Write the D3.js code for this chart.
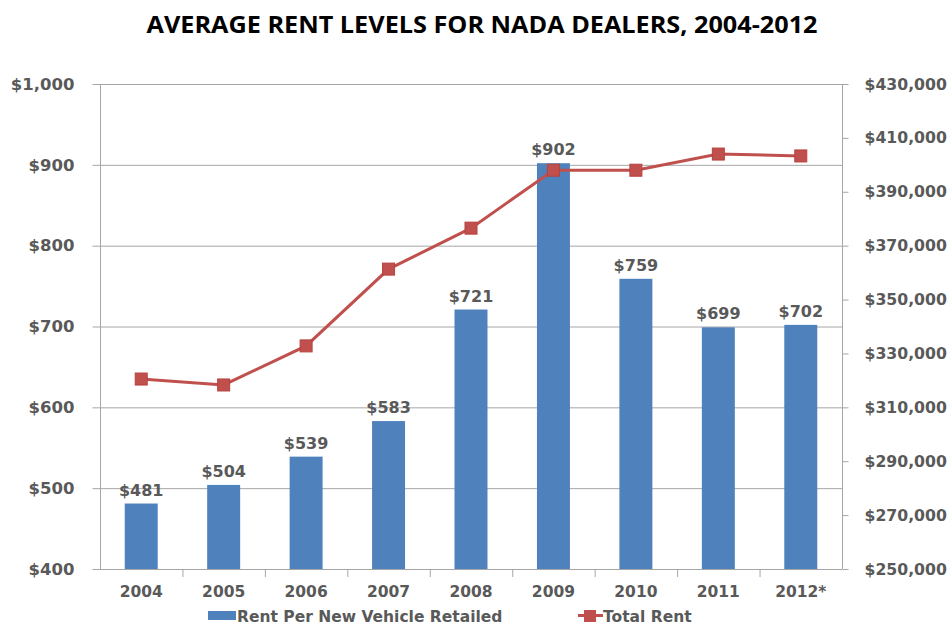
<!DOCTYPE html>
<html>
<head>
<meta charset="utf-8">
<script src="https://cdn.jsdelivr.net/npm/d3@7"></script>
<style>
  body { margin: 0; background: #fff; }
  svg text { font-family: "DejaVu Sans", Verdana, sans-serif; font-weight: bold; fill: #595959; }
</style>
</head>
<body>
<svg id="chart" width="950" height="626"></svg>
<script>
var years = ['2004', '2005', '2006', '2007', '2008', '2009', '2010', '2011', '2012*'];
var rentPerVehicle = [481, 504, 539, 583, 721, 902, 759, 699, 702];
var totalRent = [320500, 318300, 332800, 361300, 376500, 398000, 398000, 404000, 403300];
var leftTicks = [400, 500, 600, 700, 800, 900, 1000];
var rightTicks = [250000, 270000, 290000, 310000, 330000, 350000, 370000, 390000, 410000, 430000];

var svg = d3.select('#chart'),
    plotL = 100, plotR = 842, plotT = 84, plotB = 569,
    axisColor = '#a6a6a6';

var x = d3.scaleBand().domain(years).range([plotL, plotR]).paddingInner(0.6).paddingOuter(0.3);
var band = d3.scaleBand().domain(years).range([plotL, plotR]);
var yL = d3.scaleLinear().domain([400, 1000]).range([plotB, plotT]);
var yR = d3.scaleLinear().domain([250000, 430000]).range([plotB, plotT]);

// title
svg.append('text')
    .attr('x', 482).attr('y', 33)
    .attr('text-anchor', 'middle')
    .attr('textLength', 671)
    .attr('lengthAdjust', 'spacingAndGlyphs')
    .style('font-family', '"Open Sans", "Liberation Sans", sans-serif')
    .style('font-size', '23px')
    .style('fill', '#000')
    .text('AVERAGE RENT LEVELS FOR NADA DEALERS, 2004-2012');

// gridlines
svg.append('g').selectAll('line')
    .data(leftTicks.slice(1))
    .join('line')
    .attr('x1', plotL).attr('x2', plotR)
    .attr('y1', d => yL(d) + 0.5).attr('y2', d => yL(d) + 0.5)
    .attr('stroke', axisColor);

// left axis
var gl = svg.append('g').attr('transform', 'translate(' + (plotL + 0.5) + ',0)')
    .call(d3.axisLeft(yL).tickValues(leftTicks).tickSize(8).tickPadding(18)
        .tickFormat(d => '$' + d3.format(',')(d)));
gl.selectAll('line, path').attr('stroke', axisColor);
gl.select('.domain').attr('d', 'M0,' + plotT + 'V' + plotB);
gl.selectAll('text').style('font-size', '16.5px').style('font-family', '"DejaVu Sans", sans-serif');

// right axis
var gr = svg.append('g').attr('transform', 'translate(' + (plotR + 0.5) + ',0)')
    .call(d3.axisRight(yR).tickValues(rightTicks).tickSize(6).tickPadding(16)
        .tickFormat(d => '$' + d3.format(',')(d)));
gr.selectAll('line, path').attr('stroke', axisColor);
gr.select('.domain').attr('d', 'M0,' + plotT + 'V' + plotB);
gr.selectAll('text').style('font-size', '15.7px').style('font-family', '"DejaVu Sans", sans-serif');

// bottom axis line + ticks between categories
svg.append('line')
    .attr('x1', plotL).attr('x2', plotR)
    .attr('y1', plotB + 0.5).attr('y2', plotB + 0.5)
    .attr('stroke', axisColor);
svg.append('g').selectAll('line')
    .data(years.slice(1))
    .join('line')
    .attr('x1', d => band(d) + 0.5).attr('x2', d => band(d) + 0.5)
    .attr('y1', plotB).attr('y2', plotB + 8)
    .attr('stroke', axisColor);
svg.append('g').selectAll('text')
    .data(years)
    .join('text')
    .attr('x', d => band(d) + band.bandwidth() / 2)
    .attr('y', plotB + 28)
    .attr('text-anchor', 'middle')
    .style('font-size', '15.5px')
    .text(d => d);

// bars
svg.append('g').selectAll('rect')
    .data(years)
    .join('rect')
    .attr('x', d => x(d))
    .attr('width', x.bandwidth())
    .attr('y', (d, i) => yL(rentPerVehicle[i]))
    .attr('height', (d, i) => plotB - yL(rentPerVehicle[i]))
    .attr('fill', '#4f81bd');

// bar labels
svg.append('g').selectAll('text')
    .data(years)
    .join('text')
    .attr('x', d => band(d) + band.bandwidth() / 2)
    .attr('y', (d, i) => yL(rentPerVehicle[i]) - 8)
    .attr('text-anchor', 'middle')
    .style('font-size', '16px')
    .text((d, i) => '$' + rentPerVehicle[i]);

// line
var lineGen = d3.line()
    .x(d => band(d[0]) + band.bandwidth() / 2)
    .y(d => yR(d[1]));
var pts = years.map((d, i) => [d, totalRent[i]]);
svg.append('path')
    .datum(pts)
    .attr('d', lineGen)
    .attr('fill', 'none')
    .attr('stroke', '#c0504d')
    .attr('stroke-width', 3);
svg.append('g').selectAll('rect')
    .data(pts)
    .join('rect')
    .attr('x', d => band(d[0]) + band.bandwidth() / 2 - 6)
    .attr('y', d => yR(d[1]) - 6)
    .attr('width', 12).attr('height', 12)
    .attr('fill', '#c0504d')
    .attr('stroke', '#b7413e');

// legend
var lg = svg.append('g');
lg.append('rect').attr('x', 208).attr('y', 611).attr('width', 28).attr('height', 9).attr('fill', '#4f81bd');
lg.append('text').attr('x', 237).attr('y', 622).style('font-size', '15.5px')
    .text('Rent Per New Vehicle Retailed');
lg.append('line').attr('x1', 578).attr('x2', 603).attr('y1', 615.5).attr('y2', 615.5)
    .attr('stroke', '#c0504d').attr('stroke-width', 3);
lg.append('rect').attr('x', 584).attr('y', 610).attr('width', 12).attr('height', 12).attr('fill', '#c0504d');
lg.append('text').attr('x', 603).attr('y', 622).style('font-size', '15.5px')
    .text('Total Rent');
</script>
</body>
</html>
